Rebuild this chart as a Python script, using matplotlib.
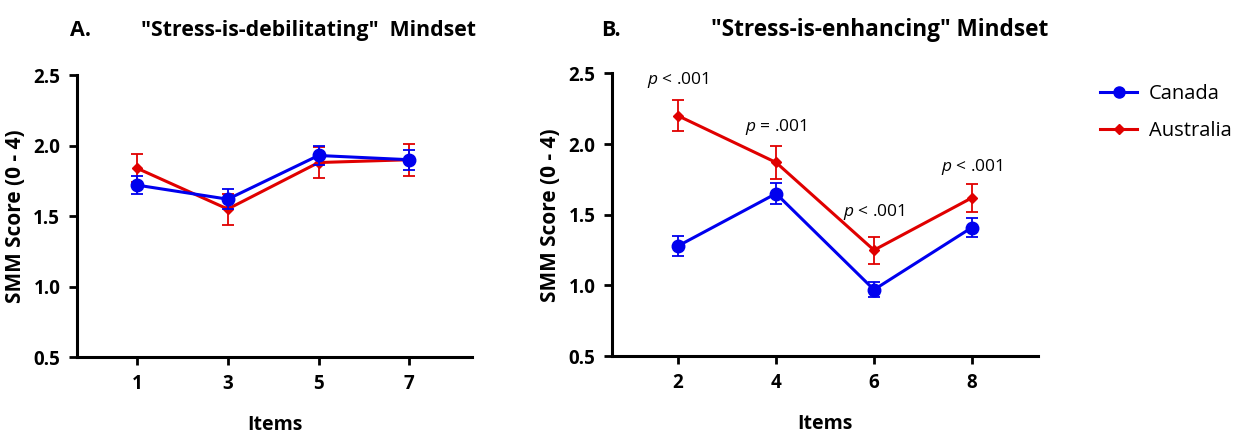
import matplotlib
matplotlib.use('Agg')
from matplotlib import pyplot as plt
from matplotlib.lines import Line2D

plt.rcParams['font.family'] = ['Open Sans', 'DejaVu Sans']
plt.rcParams['mathtext.fontset'] = 'custom'
plt.rcParams['mathtext.it'] = 'Open Sans:italic'
plt.rcParams['mathtext.rm'] = 'Open Sans'

# panel A: stress-is-debilitating items
items_a = [1, 3, 5, 7]
canada_a = [1.72, 1.62, 1.93, 1.90]
canada_a_err = [0.065, 0.07, 0.07, 0.07]
australia_a = [1.84, 1.55, 1.88, 1.90]
australia_a_err = [0.10, 0.11, 0.11, 0.115]

# panel B: stress-is-enhancing items
items_b = [2, 4, 6, 8]
canada_b = [1.28, 1.65, 0.97, 1.41]
canada_b_err = [0.07, 0.075, 0.055, 0.065]
australia_b = [2.20, 1.87, 1.25, 1.62]
australia_b_err = [0.11, 0.12, 0.095, 0.10]
p_labels = ['< .001', '= .001', '< .001', '< .001']
p_y = [2.45, 2.12, 1.52, 1.84]

blue = '#0000ee'
red = '#e00000'


def draw_panel(ax, x, can, can_err, aus, aus_err):
    ax.errorbar(x, aus, yerr=aus_err, color=red, marker='D', markersize=5.5,
                linewidth=2.2, elinewidth=1.3, capsize=4, capthick=1.3, zorder=2)
    ax.errorbar(x, can, yerr=can_err, color=blue, marker='o', markersize=9,
                linewidth=2.2, elinewidth=1.3, capsize=4, capthick=1.3, zorder=3)
    ax.set_ylim(0.5, 2.5)
    ax.set_yticks([0.5, 1.0, 1.5, 2.0, 2.5])
    ax.set_xticks(x)
    for s in ['top', 'right']:
        ax.spines[s].set_visible(False)
    for s in ['left', 'bottom']:
        ax.spines[s].set_linewidth(2.2)
    ax.tick_params(width=2, length=6, labelsize=13.5, pad=6)
    for lbl in ax.get_xticklabels() + ax.get_yticklabels():
        lbl.set_fontweight('bold')
    ax.set_xlabel('Items', fontsize=14, fontweight='bold', labelpad=15)
    ax.set_ylabel('SMM Score (0 - 4)', fontsize=15, fontweight='bold', labelpad=5)


fig = plt.figure(figsize=(12.44, 4.37), dpi=100)
ax1 = fig.add_axes([0.0619, 0.183, 0.3175, 0.645])
ax2 = fig.add_axes([0.492, 0.185, 0.3424, 0.647])

draw_panel(ax1, items_a, canada_a, canada_a_err, australia_a, australia_a_err)
ax1.set_xlim(-0.32, 8.38)
draw_panel(ax2, items_b, canada_b, canada_b_err, australia_b, australia_b_err)
ax2.set_xlim(0.65, 9.35)

for xi, yi, rest in zip(items_b, p_y, p_labels):
    ax2.text(xi, yi, '$\\it{p}$ ' + rest, ha='center', va='center', fontsize=12.5)

fig.text(0.065, 0.931, 'A.', fontsize=15.5, fontweight='bold', ha='center', va='center')
fig.text(0.248, 0.931, '"Stress-is-debilitating"  Mindset', fontsize=15.3,
         fontweight='bold', ha='center', va='center')
fig.text(0.491, 0.931, 'B.', fontsize=15.5, fontweight='bold', ha='center', va='center')
fig.text(0.707, 0.931, '"Stress-is-enhancing" Mindset', fontsize=16.3,
         fontweight='bold', ha='center', va='center')

handles = [Line2D([], [], color=blue, marker='o', markersize=8, linewidth=2.2),
           Line2D([], [], color=red, marker='D', markersize=5, linewidth=2.2)]
fig.legend(handles, ['Canada', 'Australia'], loc='upper left',
           bbox_to_anchor=(0.87, 0.85), frameon=False, fontsize=14.5,
           handlelength=1.8, handletextpad=0.6, labelspacing=0.85)

fig.savefig('out.png', dpi=100)
